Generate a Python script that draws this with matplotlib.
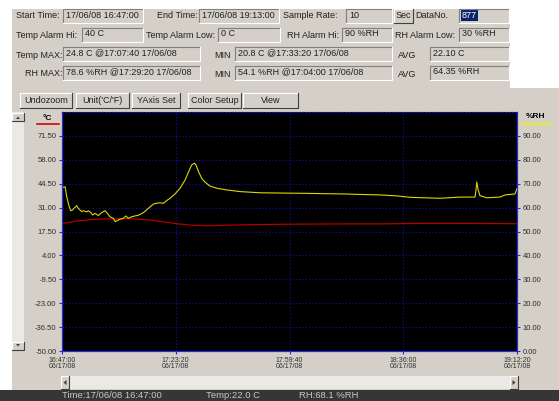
import numpy as np
import matplotlib
matplotlib.use('Agg')
import matplotlib.pyplot as plt
from matplotlib.patches import Rectangle, Polygon

plt.rcParams['font.family'] = ['Liberation Sans', 'DejaVu Sans']

W, H = 559, 401

# logger data, time in minutes after 16:47:00
temp_min = [0, 4.7, 9.0, 13.2, 17.0, 20.7, 23.8, 28.0, 32.3, 36.6, 40.9, 46.3,
            49.6, 59.0, 70.6, 80.0, 92.0, 103.0, 114.3, 127.0, 136.7, 145.33]
temp_c = [22.0, 23.4, 24.2, 24.6, 24.7, 24.8, 24.6, 24.0, 23.0, 21.9, 21.1, 20.8,
          20.9, 21.3, 21.6, 21.7, 21.8, 21.8, 22.1, 22.1, 22.0, 21.9]

rh_min = [0, 0.6, 1.0, 1.5, 2.3, 2.8, 3.4, 3.8, 4.7, 5.2, 6.3, 6.8, 7.9, 8.4,
          9.2, 9.8, 10.5, 11.6, 12.7, 13.7, 14.5, 15.3, 16.4, 17.0, 17.5, 18.5,
          19.6, 20.4, 21.2, 22.3, 23.3, 24.4, 26.0, 27.6, 29.2, 30.2, 31.3, 32.4,
          33.4, 34.5, 36.1, 37.7, 39.3, 40.3, 41.4, 42.3, 42.8, 43.5, 44.6, 45.7,
          47.3, 49.4, 52.6, 56.9, 63.3, 76.0, 90.0, 101.6, 107.0, 111.2, 120.7,
          127.1, 131.9, 132.2, 132.5, 132.9, 133.5, 135.7, 139.9, 141.5, 144.7, 145.33]
rh_pct = [68.1, 68.6, 68.7, 64.6, 60.4, 58.7, 59.0, 59.7, 60.8, 59.7, 58.3, 58.7,
          58.2, 58.7, 57.9, 56.9, 57.6, 56.7, 57.9, 58.7, 57.6, 56.2, 55.5, 54.1,
          54.5, 55.1, 55.5, 56.5, 55.5, 56.2, 56.5, 56.8, 57.9, 59.7, 61.5, 61.8,
          62.0, 61.8, 62.9, 63.9, 65.7, 68.1, 71.5, 74.6, 77.8, 78.6, 77.8, 75.4,
          72.3, 70.6, 69.0, 68.1, 67.4, 66.7, 66.2, 66.0, 65.7, 65.3, 64.9, 64.3,
          63.9, 64.4, 64.4, 67.0, 70.7, 67.5, 65.0, 64.1, 64.4, 65.3, 65.7, 68.0]

x_tick_times = ['16:47:00', '17:23:20', '17:59:40', '18:36:00', '19:12:20']
x_tick_date = '06/17/08'
temp_ticks = [-50.0, -36.5, -23.0, -9.5, 4.0, 17.5, 31.0, 44.5, 58.0, 71.5]
rh_ticks = [0, 10, 20, 30, 40, 50, 60, 70, 80, 90]

# info panel: labels and text boxes
panel_labels = [('Start Time:', 16, 16), ('End Time:', 157, 16), ('Sample Rate:', 283, 16),
                ('DataNo.', 415, 16),
                ('Temp Alarm Hi:', 16, 35), ('Temp Alarm Low:', 146, 35),
                ('RH Alarm Hi:', 287, 35), ('RH Alarm Low:', 395, 35),
                ('Temp MAX:', 16, 55), ('MIN', 214, 55.5), ('AVG', 398, 55.5),
                ('RH MAX:', 25, 74), ('MIN', 214, 74.5), ('AVG', 398, 74.5)]
panel_boxes = [(63, 143, 16, '17/06/08 16:47:00'), (199, 279, 16, '17/06/08 19:13:00'),
               (346, 392, 16, '10'), (459, 509, 16, ''),
               (82, 143, 35, '40 C'), (218, 280, 35, '0 C'),
               (342, 392, 35, '90 %RH'), (459, 509, 35, '30 %RH'),
               (63, 200, 54, '24.8 C @17:07:40 17/06/08'),
               (235, 392, 54, '20.8 C @17:33:20 17/06/08'), (430, 509, 54, '22.10 C'),
               (63, 200, 73, '78.6 %RH @17:29:20 17/06/08'),
               (235, 392, 73, '54.1 %RH @17:04:00 17/06/08'), (430, 509, 73, '64.35 %RH')]
buttons = [(20, 72, 'Undozoom'), (76, 129, "Unit('C/'F)"), (132, 180, 'YAxis Set'),
           (188, 241, 'Color Setup'), (243, 298, 'View')]

GRAY = '#d4d0c8'
DARK = '#808080'


def sunken(ax, x0, x1, y0, y1):
    ax.add_patch(Rectangle((x0, y0), x1 - x0, y1 - y0, fc=GRAY, ec='none'))
    ax.plot([x0, x0, x1], [y1, y0, y0], color=DARK, lw=0.8)
    ax.plot([x0, x1, x1], [y1, y1, y0], color='white', lw=0.8)


def raised(ax, x0, x1, y0, y1):
    ax.add_patch(Rectangle((x0, y0), x1 - x0, y1 - y0, fc=GRAY, ec='none'))
    ax.plot([x0, x0, x1], [y1, y0, y0], color='white', lw=0.8)
    ax.plot([x0, x1, x1], [y1, y1, y0], color='#404040', lw=0.8)


fig = plt.figure(figsize=(W / 100, H / 100), dpi=100)
fig.patch.set_facecolor('white')

# background "window"
bg = fig.add_axes([0, 0, 1, 1])
bg.set_xlim(0, W)
bg.set_ylim(H, 0)
bg.axis('off')
bg.set_zorder(0)
bg.add_patch(Rectangle((12, 9), 498, 80, fc=GRAY, ec='none'))
bg.add_patch(Rectangle((12, 88), W - 12, 302, fc=GRAY, ec='none'))
bg.add_patch(Rectangle((0, 390), W, 11, fc='#363636', ec='none'))

for s, x, y in panel_labels:
    bg.text(x, y, s, fontsize=6.5, va='center', color='#202020')
for x0, x1, y, s in panel_boxes:
    sunken(bg, x0, x1, y - 7, y + 7)
    bg.text(x0 + 3, y - 1, s, fontsize=6.5, va='center', color='#202020')
raised(bg, 394, 413, 9, 23)
bg.text(403.5, 16, 'Sec', fontsize=6.5, va='center', ha='center', color='#202020')
bg.add_patch(Rectangle((461, 10), 17, 11, fc='#0a246a', ec='none'))
bg.text(462, 15, '877', fontsize=6.5, va='center', color='white')

for x0, x1, s in buttons:
    raised(bg, x0, x1, 93, 108)
    bg.text((x0 + x1) / 2, 100.5, s, fontsize=6.5, ha='center', va='center', color='#202020')

# vertical scrollbar on the left
bg.add_patch(Rectangle((12, 112), 12, 238, fc='#ebe9e4', ec='none'))
raised(bg, 12, 24, 113, 121)
raised(bg, 12, 24, 342, 350)
bg.add_patch(Polygon([[16, 119], [20, 119], [18, 116.5]], fc='#404040'))
bg.add_patch(Polygon([[16, 344], [20, 344], [18, 346.5]], fc='#404040'))

# horizontal scrollbar
bg.add_patch(Rectangle((61, 376), 457, 13, fc='#ebe9e4', ec='none'))
raised(bg, 61, 69, 376, 389)
raised(bg, 510, 518, 376, 389)
bg.add_patch(Polygon([[66.5, 380], [66.5, 385], [63.5, 382.5]], fc='#404040'))
bg.add_patch(Polygon([[512.5, 380], [512.5, 385], [515.5, 382.5]], fc='#404040'))

# status line
for s, x in [('Time:17/06/08 16:47:00', 62), ('Temp:22.0 C', 206), ('RH:68.1 %RH', 299)]:
    bg.text(x, 398.3, s, fontsize=6.8, va='baseline', color='#c8c8c8')

# axis unit labels
bg.text(47, 118, '°C', fontsize=6, fontweight='bold', ha='center', va='center')
bg.plot([37, 59], [124, 124], color='#e00000', lw=1.2)
bg.text(536, 117, '%RH', fontsize=6, fontweight='bold', ha='center', va='center')
bg.plot([522, 550], [124, 124], color='#f0f000', lw=1.2)

# chart
ax = fig.add_axes([62 / W, 1 - 351 / H, 455 / W, 239 / H])
ax.set_zorder(2)
ax.set_facecolor('black')
ax2 = ax.twinx()
ax2.set_zorder(3)
ax2.patch.set_visible(False)

t0 = 16 * 60 + 47
tick_pos = []
for s in x_tick_times:
    h, m, sec = [int(p) for p in s.split(':')]
    tick_pos.append(h * 60 + m + sec / 60 - t0)

ax.plot(temp_min, temp_c, color='#b00000', lw=0.9)
ax2.plot(rh_min, rh_pct, color='#d8d800', lw=0.8)

ax.set_xlim(0, tick_pos[-1])
ax.set_ylim(-50, 85)
ax2.set_ylim(0, 100)

blue = '#2828e0'
ax.set_xticks(tick_pos)
ax.set_xticklabels([s + '\n' + x_tick_date for s in x_tick_times], fontsize=5,
                   color='#303030', linespacing=0.95)
ax.set_yticks(temp_ticks)
ax.set_yticklabels(['%.2f' % v for v in temp_ticks], fontsize=5.5, color='#303030')
ax2.set_yticks(rh_ticks)
ax2.set_yticklabels(['%.2f' % v for v in rh_ticks], fontsize=5.5, color='#303030')

for a in (ax, ax2):
    a.tick_params(length=2.5, width=0.8, color=blue, pad=1.5)
    for side in ('left', 'right', 'bottom'):
        a.spines[side].set_color(blue)
        a.spines[side].set_linewidth(0.8)
    a.spines['top'].set_color('#1010c0')
    a.spines['top'].set_linestyle((0, (1, 2)))
    a.spines['top'].set_linewidth(0.8)

ax.grid(True, color='#1010c0', linestyle=(0, (1, 2)), linewidth=0.8)
ax.set_axisbelow(True)

fig.savefig('out.png', dpi=100, facecolor=fig.get_facecolor())
